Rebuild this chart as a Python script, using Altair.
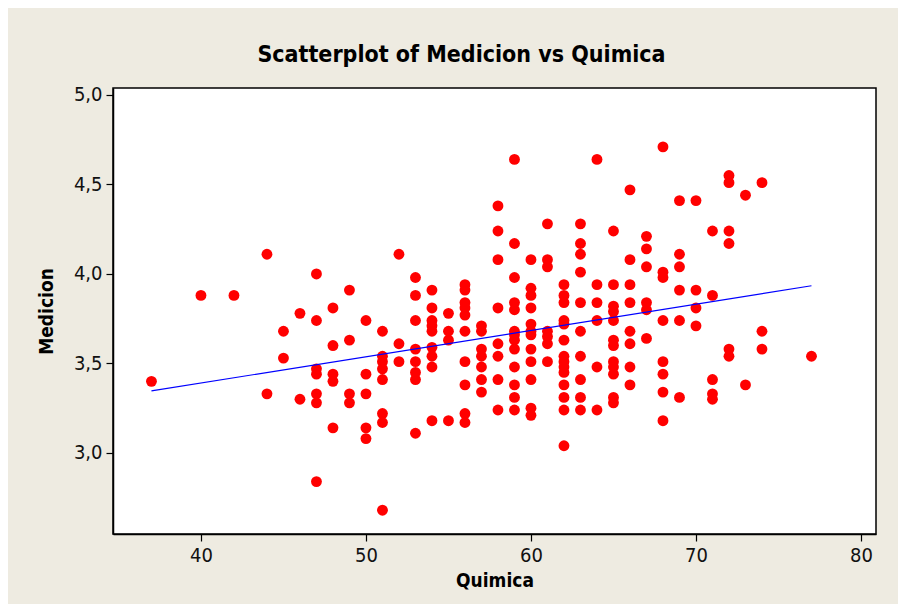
import altair as alt
import pandas as pd

quimica = [
    37, 40, 42, 44, 44, 45, 45, 46, 46,
    47, 47, 47, 47, 47, 47, 47,
    48, 48, 48, 48, 48,
    49, 49, 49, 49,
    50, 50, 50, 50, 50,
    51, 51, 51, 51, 51, 51, 51, 51,
    52, 52, 52,
    53, 53, 53, 53, 53, 53, 53, 53,
    54, 54, 54, 54, 54, 54, 54, 54, 54,
    55, 55, 55, 55,
    56, 56, 56, 56, 56, 56, 56, 56, 56, 56,
    57, 57, 57, 57, 57, 57, 57,
    58, 58, 58, 58, 58, 58, 58, 58,
    59, 59, 59, 59, 59, 59, 59, 59, 59, 59, 59, 59, 59,
    60, 60, 60, 60, 60, 60, 60, 60, 60, 60, 60, 60,
    61, 61, 61, 61, 61, 61, 61,
    62, 62, 62, 62, 62, 62, 62, 62, 62, 62, 62, 62, 62, 62,
    63, 63, 63, 63, 63, 63, 63, 63, 63, 63,
    64, 64, 64, 64, 64, 64,
    65, 65, 65, 65, 65, 65, 65, 65, 65, 65, 65, 65,
    66, 66, 66, 66, 66, 66, 66, 66,
    67, 67, 67, 67, 67, 67,
    68, 68, 68, 68, 68, 68, 68, 68,
    69, 69, 69, 69, 69, 69,
    70, 70, 70, 70,
    71, 71, 71, 71, 71,
    72, 72, 72, 72, 72, 72,
    73, 73,
    74, 74, 74,
    77,
]

medicion = [
    3.40, 3.88, 3.88, 4.11, 3.33, 3.68, 3.53, 3.78, 3.30,
    4.00, 3.74, 3.47, 3.44, 3.33, 3.28, 2.84,
    3.81, 3.60, 3.44, 3.40, 3.14,
    3.91, 3.63, 3.33, 3.28,
    3.74, 3.44, 3.33, 3.14, 3.08,
    3.68, 3.54, 3.51, 3.47, 3.41, 3.22, 3.17, 2.68,
    4.11, 3.61, 3.51,
    3.98, 3.88, 3.74, 3.58, 3.51, 3.45, 3.41, 3.11,
    3.91, 3.81, 3.74, 3.71, 3.68, 3.59, 3.54, 3.48, 3.18,
    3.78, 3.68, 3.63, 3.18,
    3.94, 3.91, 3.84, 3.81, 3.77, 3.68, 3.51, 3.38, 3.22, 3.17,
    3.71, 3.68, 3.58, 3.54, 3.48, 3.41, 3.34,
    4.38, 4.24, 4.08, 3.81, 3.61, 3.54, 3.41, 3.24,
    4.64, 4.17, 3.98, 3.84, 3.80, 3.68, 3.66, 3.63, 3.58, 3.48, 3.38, 3.31, 3.24,
    4.08, 3.92, 3.88, 3.81, 3.72, 3.68, 3.66, 3.58, 3.51, 3.41, 3.25, 3.21,
    4.28, 4.08, 4.04, 3.68, 3.65, 3.61, 3.51,
    3.94, 3.88, 3.84, 3.74, 3.72, 3.63, 3.54, 3.51, 3.48, 3.45, 3.38, 3.31, 3.24, 3.04,
    4.28, 4.17, 4.11, 4.01, 3.84, 3.68, 3.54, 3.41, 3.31, 3.24,
    4.64, 3.94, 3.84, 3.74, 3.48, 3.24,
    4.24, 3.94, 3.82, 3.79, 3.74, 3.63, 3.60, 3.51, 3.48, 3.44, 3.31, 3.28,
    4.47, 4.08, 3.94, 3.84, 3.68, 3.61, 3.48, 3.38,
    4.21, 4.14, 4.04, 3.84, 3.80, 3.64,
    4.71, 4.01, 3.98, 3.74, 3.51, 3.44, 3.34, 3.18,
    4.41, 4.11, 4.04, 3.91, 3.74, 3.31,
    4.41, 3.91, 3.81, 3.71,
    4.24, 3.88, 3.41, 3.33, 3.30,
    4.55, 4.51, 4.24, 4.17, 3.58, 3.54,
    4.44, 3.38,
    4.51, 3.68, 3.58,
    3.54,
]

x_ticks = [40, 50, 60, 70, 80]
y_ticks = [3.0, 3.5, 4.0, 4.5, 5.0]

df = pd.DataFrame({"Quimica": quimica, "Medicion": medicion})

FONT = "DejaVu Sans Condensed"

xscale = alt.Scale(domain=[34.67, 80.91], nice=False, zero=False)
yscale = alt.Scale(domain=[2.547, 5.039], nice=False, zero=False)

points = alt.Chart(df).mark_circle(size=118, color="#FF0000", opacity=1).encode(
    x=alt.X("Quimica:Q", scale=xscale,
            axis=alt.Axis(values=x_ticks, title="Quimica", format="d",
                          titlePadding=6)),
    y=alt.Y("Medicion:Q", scale=yscale,
            axis=alt.Axis(values=y_ticks, title="Medicion", titlePadding=17,
                          labelExpr="replace(format(datum.value, '.1f'), '.', ',')")),
)

line = alt.Chart(df).transform_regression("Quimica", "Medicion").mark_line(
    color="#0000FF", strokeWidth=1.2
).encode(
    x=alt.X("Quimica:Q", scale=xscale),
    y=alt.Y("Medicion:Q", scale=yscale),
)

chart = (points + line).properties(
    width=763,
    height=446,
    title=alt.TitleParams(
        "Scatterplot of Medicion vs Quimica",
        font=FONT, fontSize=23, fontWeight="bold", color="black",
        dx=-33, offset=18,
    ),
    autosize=alt.AutoSizeParams(type="none"),
    padding={"left": 105, "top": 80, "right": 22, "bottom": 70},
    background="#EEEBE1",
).configure_view(
    fill="white", stroke="black", strokeWidth=1.5
).configure_axis(
    grid=False,
    domainColor="black",
    domainWidth=1.5,
    tickColor="black",
    tickSize=7,
    tickWidth=1.2,
    labelFont=FONT,
    labelFontSize=20,
    labelColor="#111111",
    labelPadding=4,
    titleFont=FONT,
    titleFontSize=19,
    titleFontWeight="bold",
    titleColor="black",
)

chart.save("out.html", embed_options={"renderer": "svg", "actions": False})
